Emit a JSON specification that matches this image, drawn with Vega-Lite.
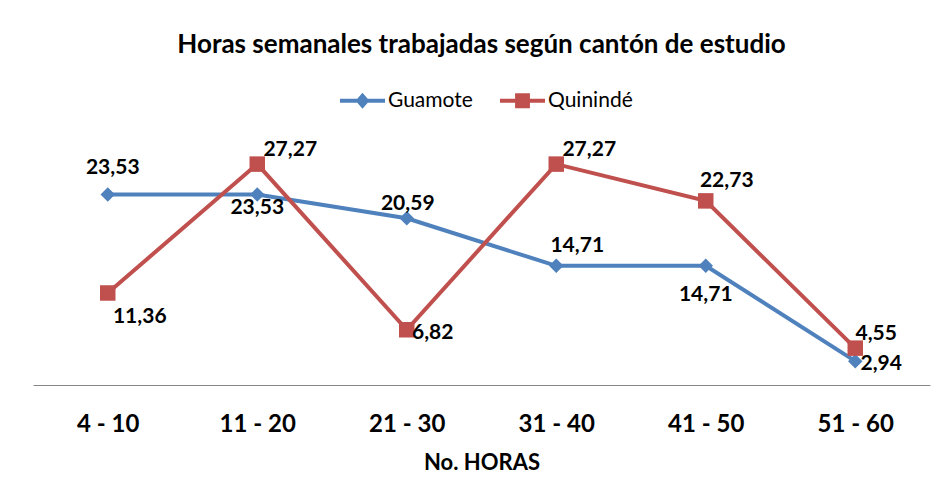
{
  "$schema": "https://vega.github.io/schema/vega-lite/v6.json",
  "width": 897,
  "height": 243,
  "autosize": {"type": "none"},
  "padding": {"left": 33, "top": 142, "right": 18, "bottom": 114},
  "background": "white",
  "config": {
    "locale": {"number": {"decimal": ",", "thousands": ".", "grouping": [3], "currency": ["", " €"]}},
    "view": {"stroke": null},
    "font": "Lato",
    "legend": {
      "title": null,
      "orient": "none",
      "legendX": 307,
      "legendY": -64,
      "direction": "horizontal",
      "columns": 2,
      "columnPadding": 27,
      "labelOffset": 3,
      "labelFont": "Lato",
      "labelFontSize": 21,
      "labelColor": "#000000",
      "symbolSize": 2025,
      "symbolStrokeWidth": 0,
      "symbolOpacity": 1
    }
  },
  "title": {
    "text": "Horas semanales trabajadas según cantón de estudio",
    "fontSize": 26,
    "fontWeight": "bold",
    "font": "Lato",
    "color": "#000000",
    "anchor": "middle",
    "frame": "group",
    "offset": 20
  },
  "data": {
    "values": [
      {"horas": "4 - 10", "serie": "Guamote", "valor": 23.53},
      {"horas": "11 - 20", "serie": "Guamote", "valor": 23.53},
      {"horas": "21 - 30", "serie": "Guamote", "valor": 20.59},
      {"horas": "31 - 40", "serie": "Guamote", "valor": 14.71},
      {"horas": "41 - 50", "serie": "Guamote", "valor": 14.71},
      {"horas": "51 - 60", "serie": "Guamote", "valor": 2.94},
      {"horas": "4 - 10", "serie": "Quinindé", "valor": 11.36},
      {"horas": "11 - 20", "serie": "Quinindé", "valor": 27.27},
      {"horas": "21 - 30", "serie": "Quinindé", "valor": 6.82},
      {"horas": "31 - 40", "serie": "Quinindé", "valor": 27.27},
      {"horas": "41 - 50", "serie": "Quinindé", "valor": 22.73},
      {"horas": "51 - 60", "serie": "Quinindé", "valor": 4.55}
    ]
  },
  "encoding": {
    "x": {
      "field": "horas",
      "type": "ordinal",
      "sort": null,
      "scale": {"type": "point", "padding": 0.5},
      "axis": {
        "title": "No. HORAS",
        "titleFont": "Lato",
        "titleFontSize": 22,
        "titleFontWeight": "bold",
        "titleColor": "#000000",
        "titlePadding": 16,
        "labelFont": "Lato",
        "labelFontSize": 24,
        "labelFontWeight": "bold",
        "labelColor": "#000000",
        "labelPadding": 27,
        "labelAngle": 0,
        "ticks": false,
        "grid": false,
        "domainColor": "#868686",
        "domainWidth": 1
      }
    },
    "y": {
      "field": "valor",
      "type": "quantitative",
      "scale": {"domain": [0, 30]},
      "axis": null
    }
  },
  "layer": [
    {
      "mark": {"type": "line", "strokeWidth": 4},
      "encoding": {
        "color": {
          "field": "serie",
          "type": "nominal",
          "scale": {"domain": ["Guamote", "Quinindé"], "range": ["#4F81BD", "#C0504D"]},
          "legend": {
            "symbolType": "M-1,-0.09H1V0.09H-1Z",
            "encode": {
              "symbols": {
                "update": {
                  "shape": {"signal": "datum.value === 'Guamote' ? 'M-1,-0.09H1V0.09H-1Z M0,-0.36L0.31,0L0,0.36L-0.31,0Z' : 'M-1,-0.09H1V0.09H-1Z M-0.33,-0.33H0.33V0.33H-0.33Z'"},
                  "fill": {"signal": "datum.value === 'Guamote' ? '#4F81BD' : '#C0504D'"},
                  "strokeWidth": {"value": 0},
                  "opacity": {"value": 1}
                }
              }
            }
          }
        }
      }
    },
    {
      "transform": [{"filter": "datum.serie == 'Guamote'"}],
      "mark": {"type": "point", "filled": true, "opacity": 1, "size": 210, "shape": "diamond", "color": "#4F81BD"}
    },
    {
      "transform": [{"filter": "datum.serie == 'Quinindé'"}],
      "mark": {"type": "point", "filled": true, "opacity": 1, "size": 240, "shape": "square", "color": "#C0504D"}
    },
    {
      "transform": [{"filter": "datum.serie == 'Guamote' && datum.horas == '4 - 10'"}],
      "mark": {"type": "text", "font": "Lato", "fontSize": 21, "fontWeight": "bold", "color": "#000000", "dx": 5, "dy": -26},
      "encoding": {"text": {"field": "valor", "type": "quantitative", "format": ".2f"}}
    },
    {
      "transform": [{"filter": "datum.serie == 'Guamote' && datum.horas == '11 - 20'"}],
      "mark": {"type": "text", "font": "Lato", "fontSize": 21, "fontWeight": "bold", "color": "#000000", "dx": 0, "dy": 14},
      "encoding": {"text": {"field": "valor", "type": "quantitative", "format": ".2f"}}
    },
    {
      "transform": [{"filter": "datum.serie == 'Guamote' && datum.horas == '21 - 30'"}],
      "mark": {"type": "text", "font": "Lato", "fontSize": 21, "fontWeight": "bold", "color": "#000000", "dx": 1, "dy": -14},
      "encoding": {"text": {"field": "valor", "type": "quantitative", "format": ".2f"}}
    },
    {
      "transform": [{"filter": "(datum.serie == 'Guamote' && datum.horas == '31 - 40') || (datum.serie == 'Quinindé' && datum.horas == '41 - 50')"}],
      "mark": {"type": "text", "font": "Lato", "fontSize": 21, "fontWeight": "bold", "color": "#000000", "dx": 21, "dy": -20},
      "encoding": {"text": {"field": "valor", "type": "quantitative", "format": ".2f"}}
    },
    {
      "transform": [{"filter": "datum.serie == 'Guamote' && datum.horas == '41 - 50'"}],
      "mark": {"type": "text", "font": "Lato", "fontSize": 21, "fontWeight": "bold", "color": "#000000", "dx": 0, "dy": 29},
      "encoding": {"text": {"field": "valor", "type": "quantitative", "format": ".2f"}}
    },
    {
      "transform": [{"filter": "(datum.serie == 'Guamote' && datum.horas == '51 - 60') || (datum.serie == 'Quinindé' && datum.horas == '21 - 30')"}],
      "mark": {"type": "text", "font": "Lato", "fontSize": 21, "fontWeight": "bold", "color": "#000000", "dx": 26, "dy": 3},
      "encoding": {"text": {"field": "valor", "type": "quantitative", "format": ".2f"}}
    },
    {
      "transform": [{"filter": "datum.serie == 'Quinindé' && datum.horas == '4 - 10'"}],
      "mark": {"type": "text", "font": "Lato", "fontSize": 21, "fontWeight": "bold", "color": "#000000", "dx": 32, "dy": 24},
      "encoding": {"text": {"field": "valor", "type": "quantitative", "format": ".2f"}}
    },
    {
      "transform": [{"filter": "datum.serie == 'Quinindé' && (datum.horas == '11 - 20' || datum.horas == '31 - 40')"}],
      "mark": {"type": "text", "font": "Lato", "fontSize": 21, "fontWeight": "bold", "color": "#000000", "dx": 33, "dy": -14},
      "encoding": {"text": {"field": "valor", "type": "quantitative", "format": ".2f"}}
    },
    {
      "transform": [{"filter": "datum.serie == 'Quinindé' && datum.horas == '51 - 60'"}],
      "mark": {"type": "text", "font": "Lato", "fontSize": 21, "fontWeight": "bold", "color": "#000000", "dx": 21, "dy": -14},
      "encoding": {"text": {"field": "valor", "type": "quantitative", "format": ".2f"}}
    }
  ]
}
